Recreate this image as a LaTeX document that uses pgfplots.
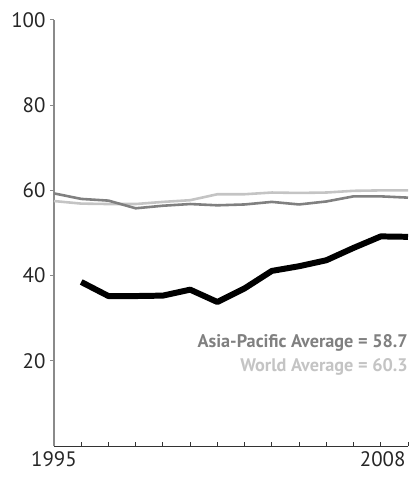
\documentclass[border=0pt]{standalone}
\usepackage{fontspec}
\setmainfont{PT Sans}
\usepackage{pgfplots}
\pgfplotsset{compat=1.18}
\definecolor{apgray}{HTML}{808080}
\definecolor{wgray}{HTML}{C4C4C4}
\definecolor{axgray}{HTML}{8A8A8A}
\begin{document}
\begin{tikzpicture}
\path[use as bounding box] (-54bp,-34bp) rectangle (358bp,446bp);
\begin{axis}[
  at={(0,0)}, anchor=south west,
  scale only axis, width=354bp, height=426bp,
  xmin=1995, xmax=2008, ymin=0, ymax=100,
  axis x line=bottom, axis y line=left,
  axis line style={-},
  x axis line style={draw=black!80, line width=0.9pt},
  y axis line style={draw=axgray, line width=1.2pt},
  xtick={1995,...,2007},
  xticklabels={1995,,,,,,,,,,,,},
  extra x ticks={2008},
  extra x tick labels={2008},
  extra x tick style={xticklabel style={anchor=north east, xshift=1bp}},
  ytick={20,40,60,80,100},
  /pgf/number format/assume math mode=true,
  tick label style={font=\fontsize{21}{24}\selectfont, text=black!85},
  x tick style={draw=black!80, line width=0.9pt},
  y tick style={draw=axgray, line width=1pt},
  xtick align=inside,
  ytick align=outside,
  major tick length=4bp,
  xticklabel style={yshift=-2bp},
  yticklabel style={xshift=-1bp},
  clip=false,
]
\addplot[wgray, line width=2.6pt] coordinates {
(1995,57.5) (1996,56.9) (1997,56.8) (1998,56.8) (1999,57.3) (2000,57.7) (2001,59.1)
(2002,59.1) (2003,59.5) (2004,59.4) (2005,59.5) (2006,59.9) (2007,60.0) (2008,60.0)};
\addplot[apgray, line width=2.6pt] coordinates {
(1995,59.3) (1996,58.0) (1997,57.6) (1998,55.8) (1999,56.4) (2000,56.8) (2001,56.5)
(2002,56.7) (2003,57.3) (2004,56.7) (2005,57.4) (2006,58.6) (2007,58.6) (2008,58.3)};
\addplot[black, line width=6pt, line join=round] coordinates {
(1996,38.5) (1997,35.2) (1998,35.2) (1999,35.3) (2000,36.7) (2001,33.8) (2002,37.0)
(2003,41.1) (2004,42.2) (2005,43.6) (2006,46.5) (2007,49.2) (2008,49.1)};
\node[anchor=base east, text=apgray, font=\bfseries\fontsize{18.3}{20}\selectfont, inner sep=0pt] at (axis cs:2008,23.1) {Asia-Pacific Average = 58.7};
\node[anchor=base east, text=wgray, font=\bfseries\fontsize{18.3}{20}\selectfont, inner sep=0pt] at (axis cs:2008,17.6) {World Average = 60.3};
\end{axis}
\end{tikzpicture}
\end{document}
